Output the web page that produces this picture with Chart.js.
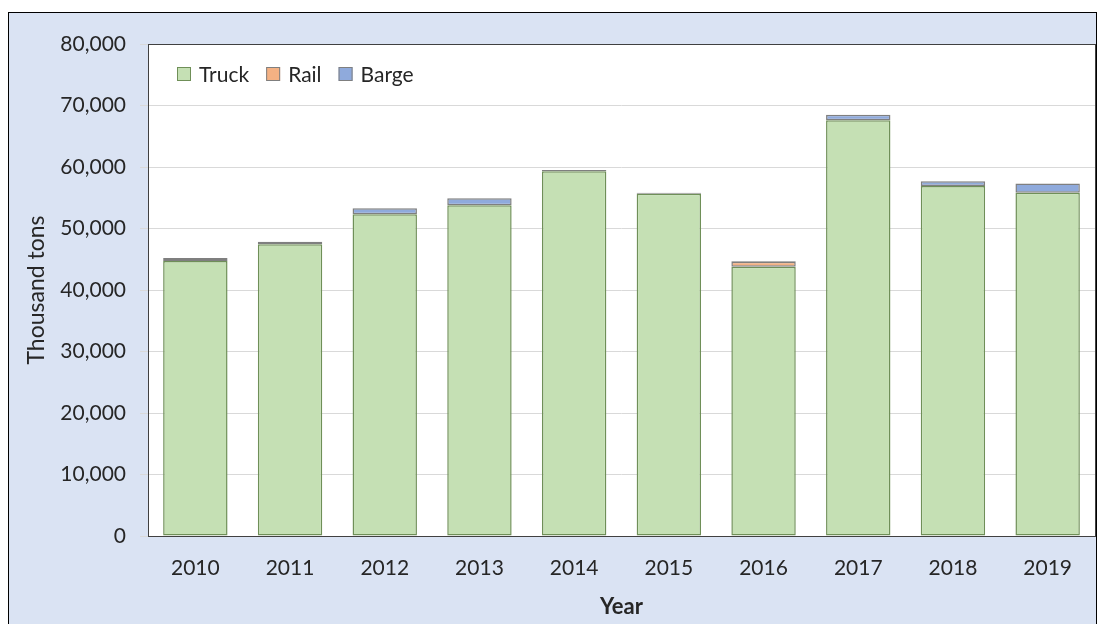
<!DOCTYPE html>
<html lang="en">
  <head>
    <meta charset="UTF-8" />
    <title>Freight by mode</title>
    <script src="https://cdn.jsdelivr.net/npm/chart.js"></script>
    <style>
      html, body { margin: 0; padding: 0; background: #ffffff; overflow: hidden; }
      #frame {
        position: absolute; left: 8px; top: 12px; width: 1087px; height: 640px;
        border: 1px solid #000; background: #dae3f3;
      }
      #wrap { position: absolute; left: 0; top: 0; width: 1087px; height: 611px; }
    </style>
  </head>
  <body>
    <div id="frame">
      <div id="wrap"><canvas id="chart"></canvas></div>
    </div>

    <script>
      const years = ["2010", "2011", "2012", "2013", "2014", "2015", "2016", "2017", "2018", "2019"];
      const truck = [44700, 47450, 52300, 53800, 59300, 55650, 43800, 67600, 56900, 55800];
      const rail  = [0, 0, 0, 0, 0, 0, 800, 0, 0, 0];
      const barge = [500, 400, 1000, 1100, 200, 150, 100, 900, 800, 1500];
      const yTicks = [0, 10000, 20000, 30000, 40000, 50000, 60000, 70000, 80000];

      const font = "Lato, 'Open Sans', sans-serif";

      // white plot area + dark frame like the Excel original
      const plotArea = {
        id: "plotArea",
        beforeDraw(chart) {
          const { ctx, chartArea: a } = chart;
          ctx.save();
          ctx.fillStyle = "#ffffff";
          ctx.fillRect(a.left, a.top, a.width, a.height);
          ctx.restore();
        },
        afterDatasetsDraw(chart) {
          const { ctx, chartArea: a } = chart;
          ctx.save();
          ctx.strokeStyle = "#404040";
          ctx.lineWidth = 1;
          ctx.strokeRect(Math.round(a.left) + 0.5, Math.round(a.top) + 0.5, Math.round(a.width), Math.round(a.height));
          ctx.restore();
        }
      };

      // horizontal legend inside the plot, top-left
      const innerLegend = {
        id: "innerLegend",
        afterDraw(chart) {
          const { ctx, chartArea: a } = chart;
          let x = a.left + 29;
          const cy = a.top + 30;
          ctx.save();
          ctx.font = "21px " + font;
          ctx.textBaseline = "middle";
          chart.data.datasets.forEach(ds => {
            ctx.fillStyle = ds.backgroundColor;
            ctx.fillRect(x, cy - 7, 14, 14);
            ctx.strokeStyle = ds.borderColor;
            ctx.lineWidth = 1;
            ctx.strokeRect(x + 0.5, cy - 6.5, 13, 13);
            x += 22;
            ctx.fillStyle = "#262626";
            ctx.fillText(ds.label, x, cy + 1);
            x += ctx.measureText(ds.label).width + 17;
          });
          ctx.restore();
        }
      };

      new Chart(document.getElementById("chart"), {
        type: "bar",
        data: {
          labels: years,
          datasets: [
            { label: "Truck", data: truck, backgroundColor: "#c5e0b4", borderColor: "#6f8f58", borderWidth: 1.5, borderSkipped: false },
            { label: "Rail", data: rail, backgroundColor: "#f4b183", borderColor: "#7f7f7f", borderWidth: 1.5, borderSkipped: false },
            { label: "Barge", data: barge, backgroundColor: "#8faadc", borderColor: "#7f7f7f", borderWidth: 1.5, borderSkipped: false }
          ]
        },
        plugins: [plotArea, innerLegend],
        options: {
          responsive: true,
          maintainAspectRatio: false,
          animation: false,
          layout: { padding: { top: 31, right: 1, bottom: 0, left: 0 } },
          datasets: { bar: { categoryPercentage: 1, barPercentage: 0.68 } },
          plugins: {
            legend: { display: false },
            tooltip: { enabled: false }
          },
          scales: {
            x: {
              stacked: true,
              grid: { display: false },
              border: { display: false },
              ticks: { color: "#262626", font: { family: font, size: 21 }, padding: 12 },
              title: { display: true, text: "Year", color: "#262626", font: { family: font, size: 22, weight: "bold" }, padding: { top: 6 } },
              afterFit(s) { s.height = 88; }
            },
            y: {
              stacked: true,
              min: 0, max: 80000,
              afterBuildTicks(s) { s.ticks = yTicks.map(v => ({ value: v })); },
              grid: { color: "#d9d9d9" },
              border: { display: false },
              ticks: {
                color: "#262626", font: { family: font, size: 21 }, padding: 14,
                callback: v => v.toLocaleString("en-US")
              },
              title: { display: true, text: "Thousand tons", color: "#262626", font: { family: font, size: 23 }, padding: { top: 14, bottom: 4 } },
              afterFit(s) { s.width = 139; }
            }
          }
        }
      });
    </script>
  </body>
</html>
